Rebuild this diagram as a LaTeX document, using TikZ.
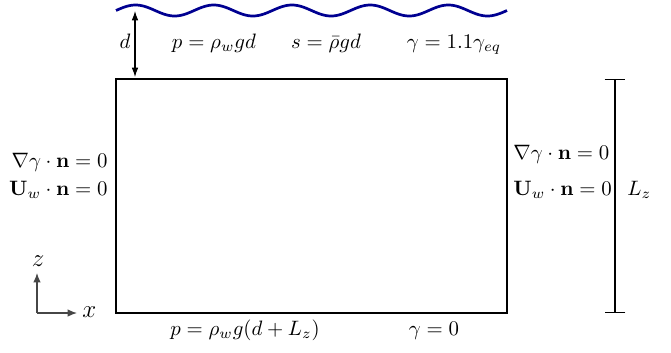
\documentclass[tikz,border=0pt]{standalone}
\usetikzlibrary{arrows.meta}
\definecolor{wavecol}{RGB}{0,0,145}
\definecolor{axiscol}{RGB}{70,70,70}
\begin{document}
\begin{tikzpicture}[x=0.48pt,y=-0.48pt,
  lbl/.style={inner sep=0pt},
  boxline/.style={line width=1.2pt},
  waveline/.style={wavecol,line width=1.3pt},
  thinarrow/.style={line width=0.5pt,{Latex[length=4.5pt,width=3.2pt]}-{Latex[length=4.5pt,width=3.2pt]}},
  axisarrow/.style={axiscol,line width=0.6pt,-{Latex[length=4.5pt,width=3.6pt]}},
  dimline/.style={line width=0.6pt,{Bar[width=10pt]}-{Bar[width=10pt]}}]
\useasboundingbox (0,0) rectangle (671,352);
% domain box
\coordinate (tl) at (116,79);
\coordinate (br) at (507,313);
\draw[boxline] (tl) rectangle (br);
% free surface
\draw[waveline,domain=116:507,samples=240,smooth] plot (\x,{10.5-5.5*sin(4.6036*(\x-116))});
% depth d
\coordinate (dtop) at (135,11);
\coordinate (dbot) at (135,77);
\draw[thinarrow] (dtop) -- (dbot);
\node[lbl,anchor=base] (dl) at (125,48) {$d$};
% top labels
\node[lbl,anchor=base] (tp) at (214,48) {$p=\rho_w g d$};
\node[lbl,anchor=base] (ts) at (326,48) {$s=\bar\rho g d$};
\node[lbl,anchor=base] (tg) at (454,48) {$\gamma=1.1\gamma_{eq}$};
% left labels
\node[lbl,anchor=base east] (l1) at (108,167) {$\nabla\gamma\cdot\mathbf{n}=0$};
\node[lbl,anchor=base east] (l2) at (108,195) {$\mathbf{U}_w\cdot\mathbf{n}=0$};
% right labels
\node[lbl,anchor=base west] (r1) at (513,159) {$\nabla\gamma\cdot\mathbf{n}=0$};
\node[lbl,anchor=base west] (r2) at (513,195) {$\mathbf{U}_w\cdot\mathbf{n}=0$};
% dimension Lz
\coordinate (dimt) at (615,79);
\coordinate (dimb) at (615,313);
\draw[dimline] (dimt) -- (dimb);
\node[lbl,anchor=base west] (lz) at (627,195) {$L_z$};
% bottom labels
\node[lbl,anchor=base] (bp) at (245,335) {$p=\rho_w g(d+L_z)$};
\node[lbl,anchor=base] (bg) at (434,335) {$\gamma=0$};
% axes
\coordinate (o) at (37,313);
\coordinate (zt) at (37,273);
\coordinate (xt) at (77,313);
\draw[axisarrow] (o) -- (zt);
\draw[axisarrow] (o) -- (xt);
\node[lbl,anchor=base] (zl) at (38,266) {\large$z$};
\node[lbl,anchor=base west] (xl) at (82,317) {\large$x$};
\end{tikzpicture}
\end{document}
